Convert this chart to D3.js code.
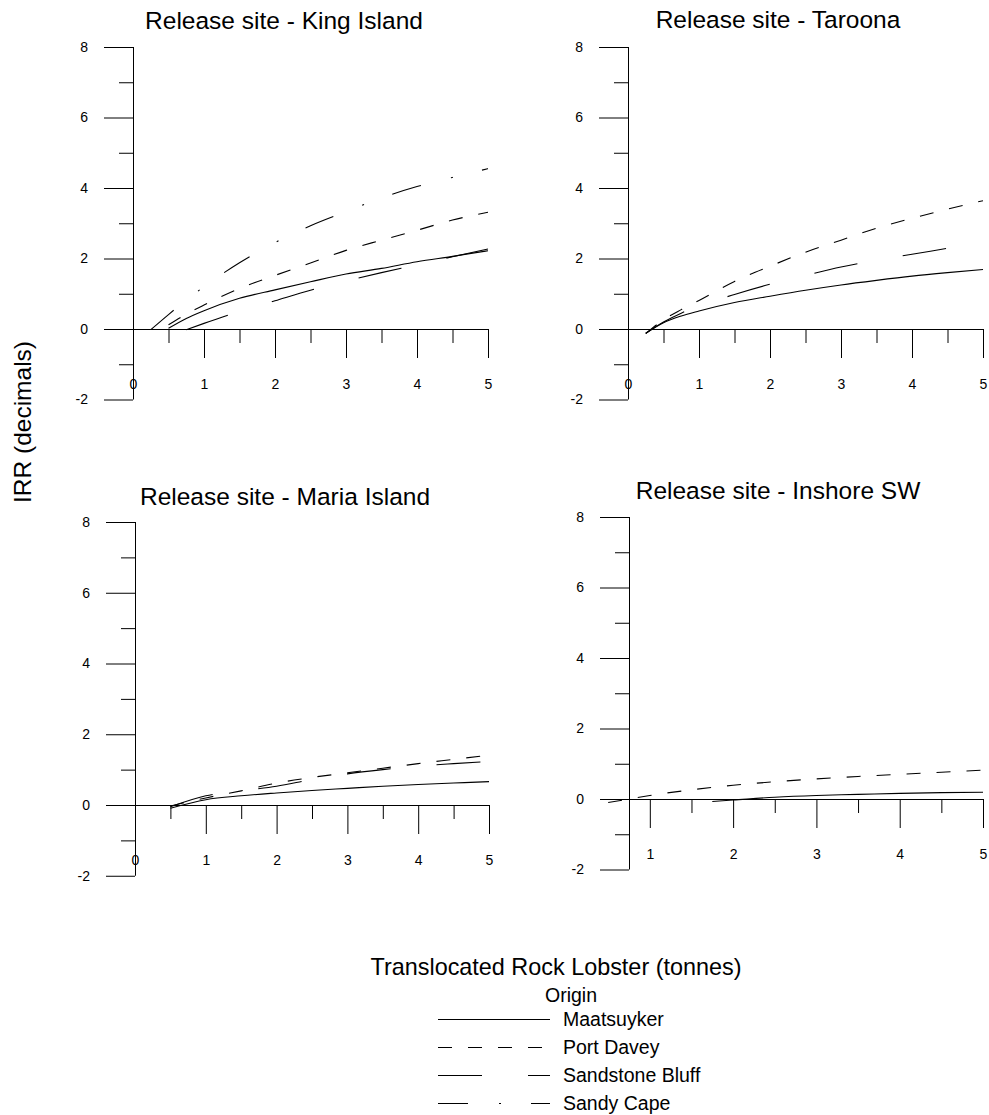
<!DOCTYPE html>
<html>
<head>
<meta charset="utf-8">
<script src="https://cdn.jsdelivr.net/npm/d3@7"></script>
<style>
  html, body { margin: 0; padding: 0; background: #fff; }
  svg { display: block; font-family: "Liberation Sans", Arial, sans-serif; }
  .tick text { font-size: 14px; font-family: "Liberation Sans", Arial, sans-serif; fill: #000; }
</style>
</head>
<body>
<svg id="chart" width="989" height="1115"></svg>
<script>
// ---------------- DATA ----------------
const seriesNames = ["Maatsuyker", "Port Davey", "Sandstone Bluff", "Sandy Cape"];
const panelTitles = ["Release site - King Island", "Release site - Taroona", "Release site - Maria Island", "Release site - Inshore SW"];

const yMajorTicks = [-2, 0, 2, 4, 6, 8];
const yMinorTicks = [-1, 1, 3, 5, 7];
const xMajorTicksA = [0, 1, 2, 3, 4, 5];
const xMinorTicksA = [0.5, 1.5, 2.5, 3.5, 4.5];
const xMajorTicksB = [1, 2, 3, 4, 5];
const xMinorTicksB = [1.5, 2.5, 3.5, 4.5];

// King Island
const xKing = [0.25, 0.5, 0.75, 1, 1.5, 2, 2.5, 3, 3.5, 4, 4.5, 5];
const kingMaatsuyker = [null, 0.02, 0.30, 0.52, 0.87, 1.11, 1.34, 1.56, 1.72, 1.91, 2.06, 2.22];
const kingPortDavey  = [null, 0.12, 0.42, 0.68, 1.15, 1.52, 1.87, 2.23, 2.52, 2.80, 3.09, 3.31];
const kingSandstone  = [null, null, -0.02, 0.16, 0.50, 0.80, 1.10, 1.36, 1.60, 1.82, 2.05, 2.27];
const kingSandyCape  = [-0.02, 0.41, 0.82, 1.20, 1.88, 2.45, 2.93, 3.33, 3.72, 4.04, 4.30, 4.55];

// Taroona
const xTaroona = [0.25, 0.5, 0.75, 1, 1.5, 2, 2.5, 3, 3.5, 4, 4.5, 5];
const taroonaMaatsuyker = [-0.12, 0.18, 0.37, 0.51, 0.75, 0.93, 1.10, 1.25, 1.38, 1.50, 1.60, 1.69];
const taroonaPortDavey  = [-0.13, 0.26, 0.55, 0.81, 1.35, 1.78, 2.18, 2.52, 2.86, 3.14, 3.40, 3.64];
const taroonaSandstone  = [-0.12, 0.20, 0.45, 0.65, 0.98, 1.27, 1.52, 1.76, 1.95, 2.12, 2.29, null];

// Maria Island
const xMaria = [0.5, 1, 1.5, 2, 2.5, 3, 3.5, 4, 4.5, 5];
const mariaMaatsuyker = [-0.09, 0.15, 0.26, 0.34, 0.41, 0.47, 0.53, 0.58, 0.62, 0.66];
const mariaPortDavey  = [-0.03, 0.20, 0.40, 0.62, 0.78, 0.91, 1.04, 1.17, 1.29, 1.41];
const mariaSandstone  = [-0.05, 0.26, 0.40, 0.53, 0.72, 0.88, 1.00, 1.10, 1.17, 1.23];

// Inshore SW
const xInshore = [0.5, 0.75, 1, 1.5, 1.75, 2, 2.5, 3, 3.5, 4, 4.5, 5];
const inshoreMaatsuyker = [null, null, null, null, -0.07, -0.03, 0.05, 0.10, 0.13, 0.16, 0.18, 0.19];
const inshorePortDavey  = [-0.10, 0.00, 0.10, 0.26, 0.33, 0.39, 0.49, 0.57, 0.64, 0.70, 0.76, 0.82];

// ---------------- STYLE / LAYOUT ----------------
const dashStyles = {
  "Maatsuyker": null,
  "Port Davey": "14,16",
  "Sandstone Bluff": "44,46",
  "Sandy Cape": "30,31,2,30"
};

const panels = [
  { title: panelTitles[0], xDom: [0, 5], xr: [133, 488], yr: [329, 47], titleX: 284, titleY: 29,
    xMaj: xMajorTicksA, xMin: xMinorTicksA,
    series: [[xKing, kingMaatsuyker, "Maatsuyker"], [xKing, kingPortDavey, "Port Davey"],
             [xKing, kingSandstone, "Sandstone Bluff"], [xKing, kingSandyCape, "Sandy Cape"]] },
  { title: panelTitles[1], xDom: [0, 5], xr: [628, 983], yr: [329, 47], titleX: 778, titleY: 28,
    xMaj: xMajorTicksA, xMin: xMinorTicksA,
    series: [[xTaroona, taroonaMaatsuyker, "Maatsuyker"], [xTaroona, taroonaPortDavey, "Port Davey"],
             [xTaroona, taroonaSandstone, "Sandstone Bluff"]] },
  { title: panelTitles[2], xDom: [0, 5], xr: [135, 489], yr: [805, 522], titleX: 285, titleY: 505,
    xMaj: xMajorTicksA, xMin: xMinorTicksA,
    series: [[xMaria, mariaMaatsuyker, "Maatsuyker"], [xMaria, mariaPortDavey, "Port Davey"],
             [xMaria, mariaSandstone, "Sandstone Bluff"]] },
  { title: panelTitles[3], xDom: [0.75, 5], xr: [629, 983], yr: [799, 517], titleX: 778, titleY: 499,
    xMaj: xMajorTicksB, xMin: xMinorTicksB,
    series: [[xInshore, inshoreMaatsuyker, "Maatsuyker"], [xInshore, inshorePortDavey, "Port Davey"]] }
];

const svg = d3.select("#chart");
const fmt = d => String(d);

panels.forEach(p => {
  const x = d3.scaleLinear().domain(p.xDom).range(p.xr);
  const y = d3.scaleLinear().domain([0, 8]).range(p.yr);
  const g = svg.append("g");

  // title
  g.append("text").attr("x", p.titleX).attr("y", p.titleY)
    .attr("text-anchor", "middle").attr("font-size", 24.5).attr("fill", "#000")
    .text(p.title);

  // y axis (major)
  const yAxis = d3.axisLeft(y).tickValues(yMajorTicks).tickSize(29).tickSizeOuter(0).tickPadding(16)
    .tickFormat(fmt);
  const ya = g.append("g").attr("transform", `translate(${p.xr[0]},0)`).call(yAxis);
  ya.select(".domain").remove();
  ya.append("line").attr("x1", 0.5).attr("x2", 0.5).attr("y1", y(8)).attr("y2", y(-2)).attr("stroke", "#000");
  // y axis (minor)
  const yMinor = d3.axisLeft(y).tickValues(yMinorTicks).tickSize(14).tickSizeOuter(0).tickFormat("");
  const ym = g.append("g").attr("transform", `translate(${p.xr[0]},0)`).call(yMinor);
  ym.select(".domain").remove();

  // x axis (major)
  const xAxis = d3.axisBottom(x).tickValues(p.xMaj).tickSize(29).tickSizeOuter(0).tickPadding(21)
    .tickFormat(fmt);
  const xa = g.append("g").attr("transform", `translate(0,${p.yr[0]})`).call(xAxis);
  // x axis (minor)
  const xMinor = d3.axisBottom(x).tickValues(p.xMin).tickSize(14).tickSizeOuter(0).tickFormat("");
  const xm = g.append("g").attr("transform", `translate(0,${p.yr[0]})`).call(xMinor);
  xm.select(".domain").remove();

  [ya, ym, xa, xm].forEach(a => {
    a.attr("font-size", null).attr("font-family", null);
    a.selectAll("line, path").attr("stroke", "#000");
  });

  // lines
  p.series.forEach(([xs, ys, name]) => {
    const pts = xs.map((xv, i) => [xv, ys[i]]).filter(d => d[1] !== null);
    const line = d3.line().x(d => x(d[0])).y(d => y(d[1])).curve(d3.curveMonotoneX);
    g.append("path").attr("d", line(pts)).attr("fill", "none").attr("stroke", "#000")
      .attr("stroke-width", 1.1)
      .attr("stroke-dasharray", dashStyles[name]);
  });
});

// y axis title
svg.append("text").attr("transform", "translate(31,422) rotate(-90)")
  .attr("text-anchor", "middle").attr("font-size", 24.5).attr("fill", "#000")
  .text("IRR (decimals)");

// x axis title
svg.append("text").attr("x", 556).attr("y", 975).attr("text-anchor", "middle")
  .attr("font-size", 23.4).attr("fill", "#000").text("Translocated Rock Lobster (tonnes)");

// legend
svg.append("text").attr("x", 571).attr("y", 1002).attr("text-anchor", "middle")
  .attr("font-size", 19.5).attr("fill", "#000").text("Origin");

const legend = svg.append("g");
seriesNames.forEach((name, i) => {
  const ly = 1019 + i * 28;
  legend.append("line").attr("x1", 438).attr("x2", 550).attr("y1", ly + 0.5).attr("y2", ly + 0.5)
    .attr("stroke", "#000").attr("stroke-width", 1).attr("stroke-dasharray", dashStyles[name]);
  legend.append("text").attr("x", 563).attr("y", ly + 7).attr("font-size", 19.5).attr("fill", "#000")
    .text(name);
});
</script>
</body>
</html>
